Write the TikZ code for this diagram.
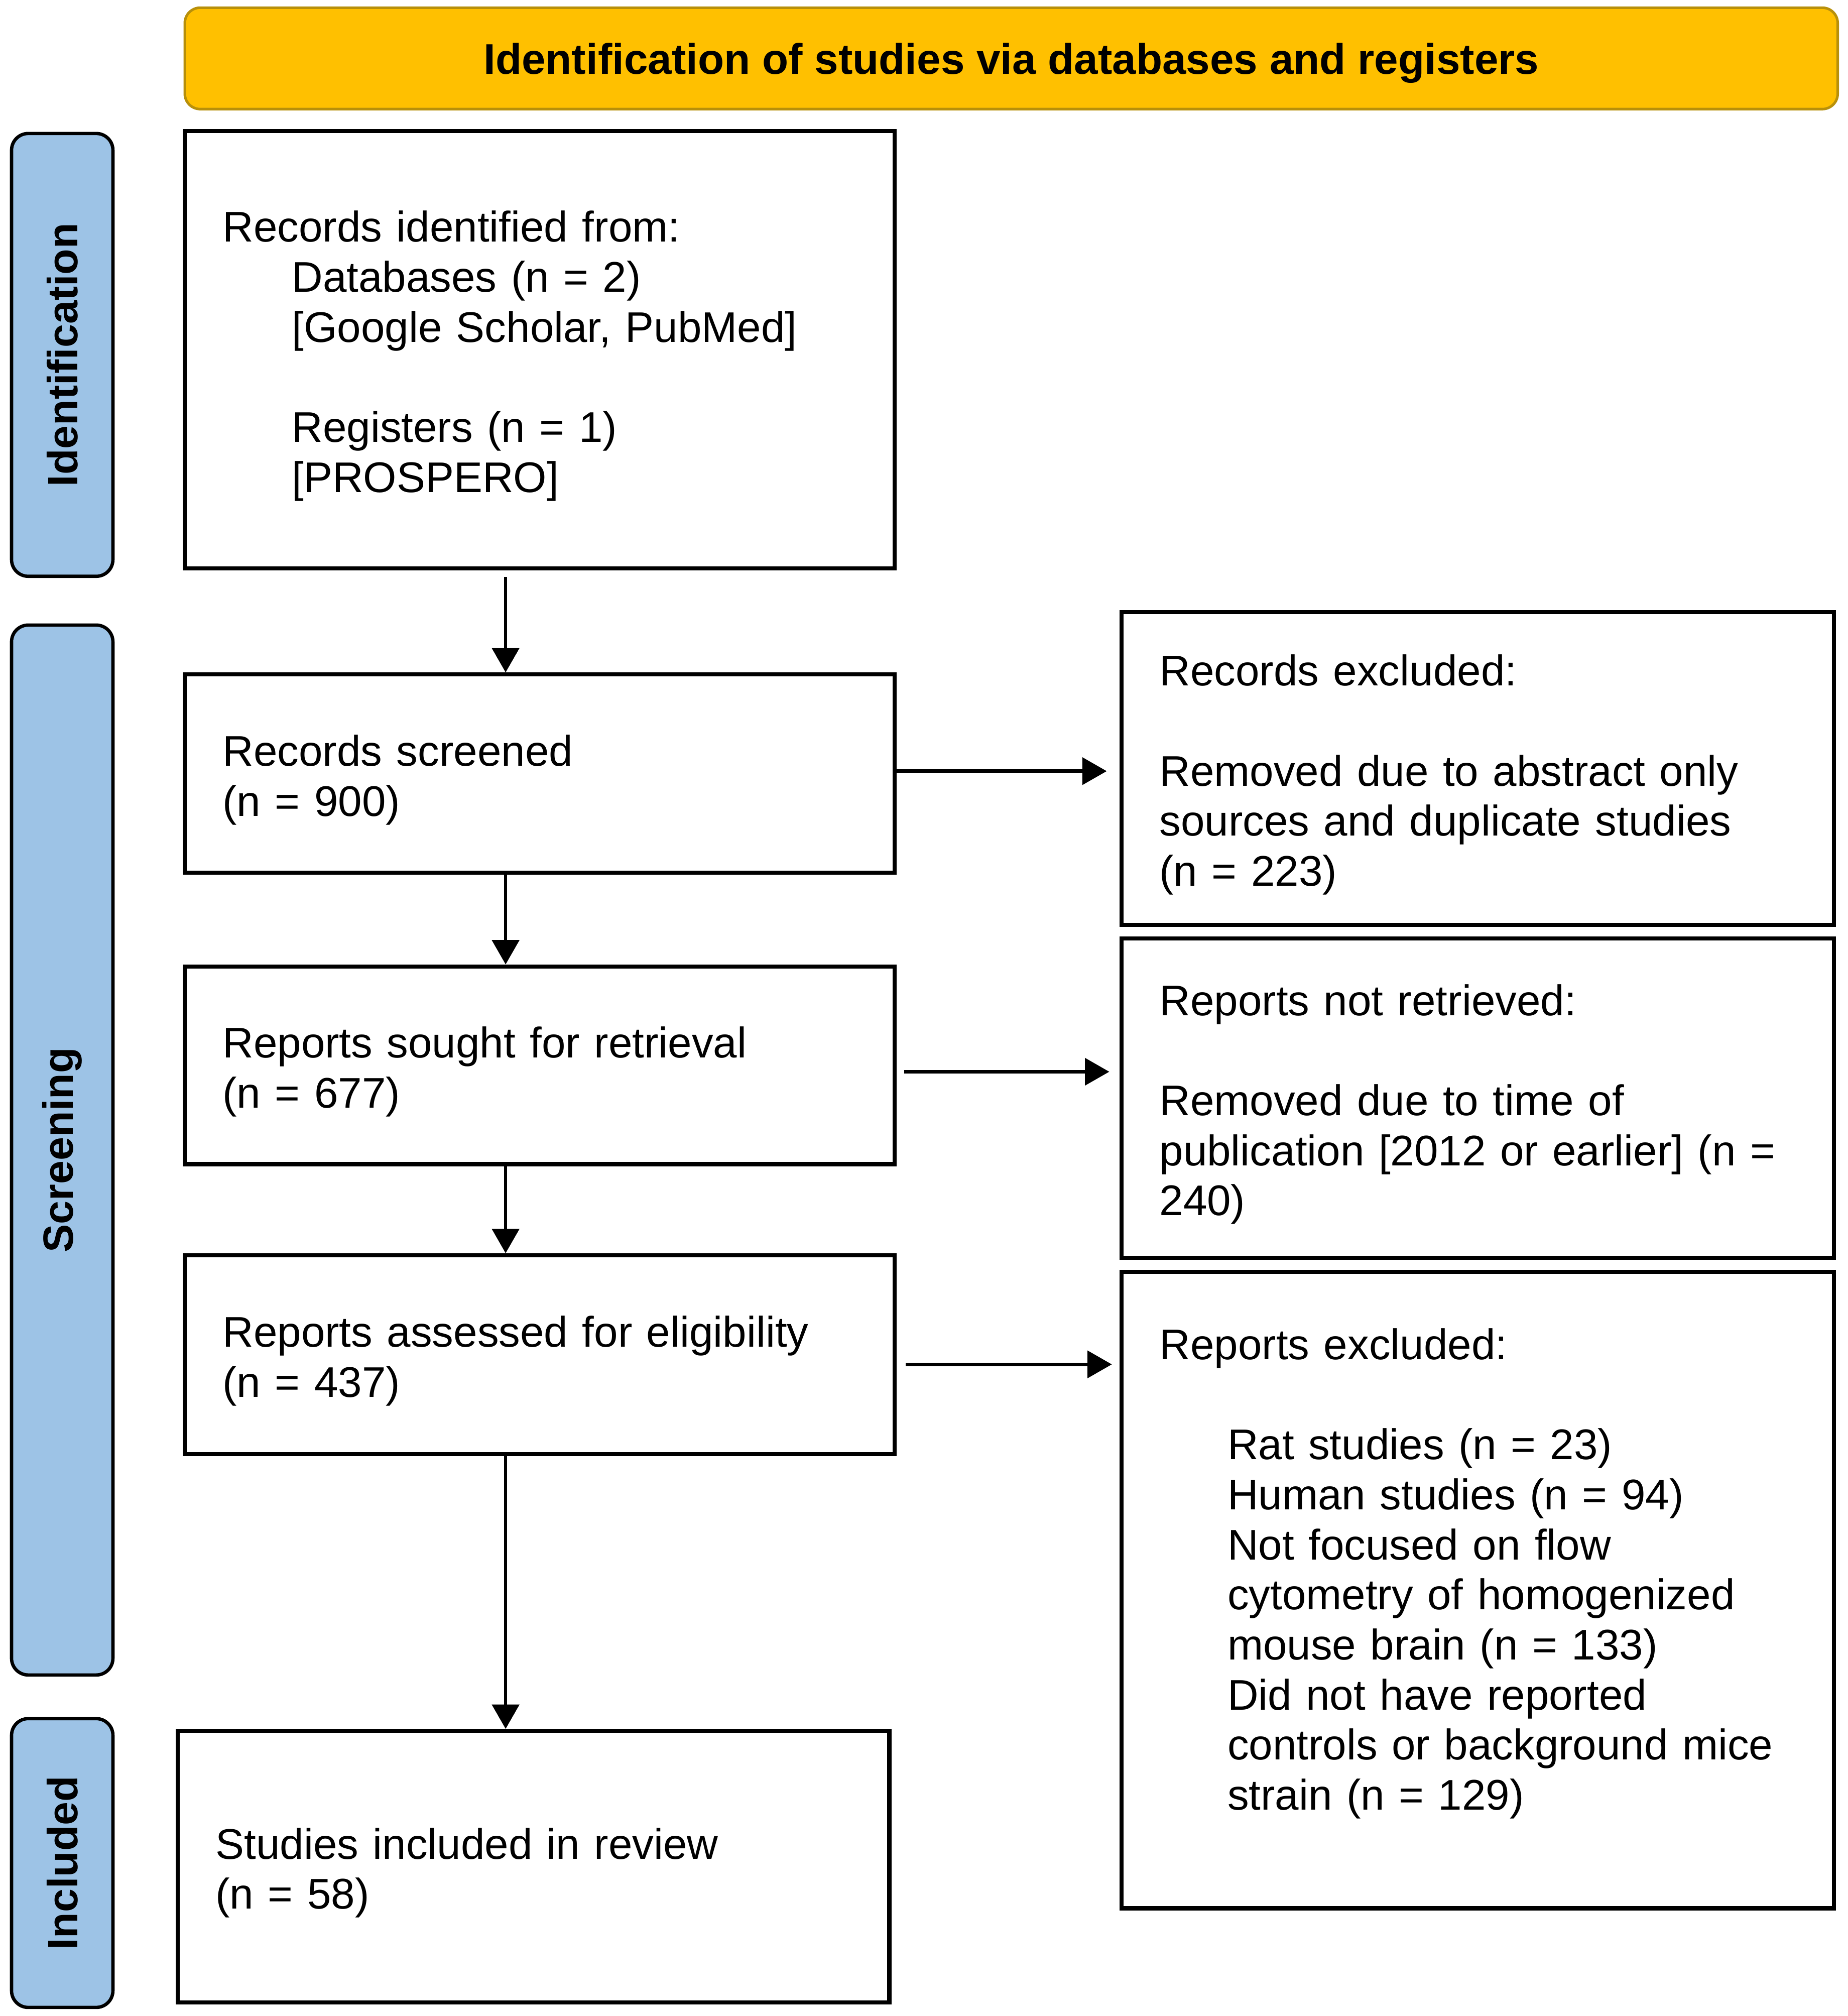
\documentclass[tikz,border=0pt]{standalone}
\usepackage{fontspec}
\setmainfont{Liberation Sans}
\usetikzlibrary{arrows.meta}
\definecolor{hdrfill}{HTML}{FFC000}
\definecolor{hdrline}{HTML}{B8900A}
\definecolor{barfill}{HTML}{9DC3E6}
\begin{document}
\begin{tikzpicture}[x=1pt,y=-1pt,
  txt/.style={font=\fontsize{33.4pt}{39pt}\selectfont},
  box/.style={draw=black, line width=3.2pt, rectangle, align=left,
    inner xsep=29.5pt, inner ysep=0pt, txt,
    execute at begin node={\rule{0pt}{34pt}}},
  phase/.style={draw=black, line width=2.6pt, fill=barfill, rounded corners=13pt,
    rectangle, rotate=90, inner sep=0pt, minimum height=79pt,
    font=\fontsize{33pt}{39pt}\selectfont\bfseries},
  hdr/.style={draw=hdrline, line width=2pt, fill=hdrfill, rounded corners=12pt,
    rectangle, inner sep=0pt, text depth=0pt,
    font=\fontsize{33.4pt}{39pt}\selectfont\bfseries},
  arr/.style={line width=2.6pt, -{Triangle[length=19pt,width=21pt]}}]
\useasboundingbox (0,0) rectangle (1440,1570.7);

% header
\node[hdr, minimum width=1288pt, minimum height=79pt] (head) at (788,45.5)
  {Identification of studies via databases and registers};

% phase bars
\node[phase, minimum width=345pt] (pid) at (48.5,276.5) {Identification};
\node[phase, minimum width=818pt] (pscr) at (48.5,896) {Screening};
\node[phase, minimum width=225pt] (pinc) at (48.5,1451.5) {Included};

% left column boxes
\node[box, minimum width=553pt, minimum height=341pt, text width=494pt] (b1) at (420.5,272.5)
  {Records identified from:\\
   \hspace*{54pt}Databases (n = 2)\\
   \hspace*{54pt}[Google Scholar, PubMed]\\[39pt]
   \hspace*{54pt}Registers (n = 1)\\
   \hspace*{54pt}[PROSPERO]};
\node[box, minimum width=553pt, minimum height=154.5pt, text width=494pt] (b2) at (420.5,602.75)
  {Records screened\\(n = 900)};
\node[box, minimum width=553pt, minimum height=154pt, text width=494pt] (b3) at (420.5,830)
  {Reports sought for retrieval\\(n = 677)};
\node[box, minimum width=553pt, minimum height=155pt, text width=494pt] (b4) at (420.5,1055.5)
  {Reports assessed for eligibility\\(n = 437)};
\node[box, minimum width=554.5pt, minimum height=211.4pt, text width=495.5pt] (b5) at (415.75,1454.3)
  {Studies included in review\\(n = 58)};

% right column boxes
\node[box, minimum width=555pt, minimum height=243.6pt, text width=496pt] (r1) at (1151.5,598.8)
  {Records excluded:\\[39pt]
   Removed due to abstract only\\
   sources and duplicate studies\\
   (n = 223)};
\node[box, minimum width=555pt, minimum height=249pt, text width=496pt] (r2) at (1151.5,855.5)
  {Reports not retrieved:\\[39pt]
   Removed due to time of\\
   publication [2012 or earlier] (n =\\
   240)};
\node[box, minimum width=555pt, minimum height=495.7pt, text width=496pt] (r3) at (1151.5,1238.9)
  {Reports excluded:\\[39pt]
   \hspace*{53pt}Rat studies (n = 23)\\
   \hspace*{53pt}Human studies (n = 94)\\
   \hspace*{53pt}Not focused on flow\\
   \hspace*{53pt}cytometry of homogenized\\
   \hspace*{53pt}mouse brain (n = 133)\\
   \hspace*{53pt}Did not have reported\\
   \hspace*{53pt}controls or background mice\\
   \hspace*{53pt}strain (n = 129)\\[3.6pt]
   \mbox{}};

% vertical arrows
\coordinate (ax) at (394,0);
\draw[arr, shorten <=5pt] (b1.south -| ax) -- (b2.north -| ax);
\draw[arr] (b2.south -| ax) -- (b3.north -| ax);
\draw[arr] (b3.south -| ax) -- (b4.north -| ax);
\draw[arr] (b4.south -| ax) -- (b5.north -| ax);

% horizontal arrows
\draw[arr, shorten >=10pt] (b2.east |- 0,600.8) -- (r1.west |- 0,600.8);
\draw[arr, shorten <=6pt, shorten >=8pt] (b3.east |- 0,835) -- (r2.west |- 0,835);
\draw[arr, shorten <=7pt, shorten >=6pt] (b4.east |- 0,1063) -- (r3.west |- 0,1063);
\end{tikzpicture}
\end{document}
